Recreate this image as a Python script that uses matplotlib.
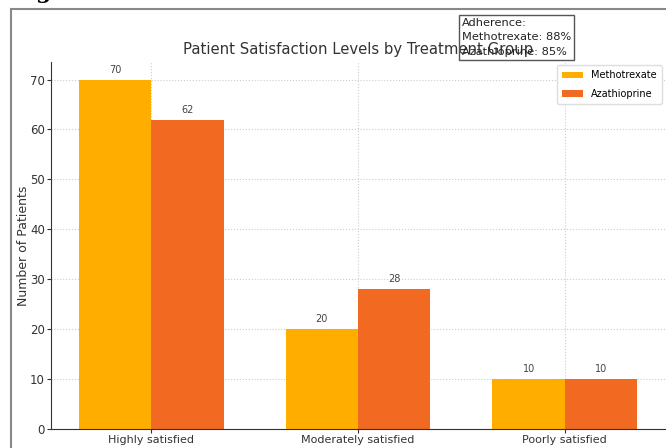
import numpy as np
import matplotlib.pyplot as plt
from matplotlib.patches import Rectangle

categories = ['Highly satisfied', 'Moderately satisfied', 'Poorly satisfied']
methotrexate = [70, 20, 10]
azathioprine = [62, 28, 10]
adherence = {'Methotrexate': 88, 'Azathioprine': 85}

c_mtx = '#FFAE00'
c_aza = '#F26A21'
txt = '#333333'

fig = plt.figure(figsize=(6.66, 4.48), dpi=100)
ax = fig.add_axes([0.0766, 0.0424, 0.922, 0.819])

x = np.arange(len(categories))
w = 0.35
b1 = ax.bar(x - w / 2, methotrexate, w, color=c_mtx, label='Methotrexate')
b2 = ax.bar(x + w / 2, azathioprine, w, color=c_aza, label='Azathioprine')

for bars in (b1, b2):
    for b in bars:
        ax.text(b.get_x() + b.get_width() / 2, b.get_height() + 1.0, f'{b.get_height():.0f}',
                ha='center', va='bottom', fontsize=7, color='#444444')

ax.set_xticks(x)
ax.set_xticklabels(categories, fontsize=8, color=txt)
ax.tick_params(axis='y', labelsize=8.5, labelcolor=txt)
ax.tick_params(length=3, color=txt, pad=1.5)
ax.set_ylabel('Number of Patients', fontsize=9, color=txt)
ax.yaxis.set_label_coords(-0.035, 0.5)
ax.grid(True, linestyle=':', color='#cccccc', linewidth=0.8)
ax.set_axisbelow(True)
for s in ['top', 'right']:
    ax.spines[s].set_visible(False)
for s in ['left', 'bottom']:
    ax.spines[s].set_color(txt)

ax.legend(loc='upper right', fontsize=7, frameon=True, framealpha=1,
          edgecolor='#dddddd', handlelength=2.2, labelspacing=0.9, borderpad=0.5,
          borderaxespad=0.35)

ax.set_title('Patient Satisfaction Levels by Treatment Group', fontsize=10.7, color=txt, pad=6)

# adherence note in the top corner
note = 'Adherence:\n' + '\n'.join(f'{k}: {v}%' for k, v in adherence.items())
fig.text(0.6935, 0.96, note, fontsize=8.2, color='#222222', va='top', ha='left',
         linespacing=1.55,
         bbox=dict(boxstyle='square,pad=0.25', facecolor='none', edgecolor='#555555', linewidth=1))

# page frame around the figure
fig.patches.append(Rectangle((0.016, -0.1), 1.2, 1.08, transform=fig.transFigure,
                             fill=False, edgecolor='#888888', linewidth=1.5))
fig.text(0.052, 1.018, 'g', fontsize=16, fontweight='bold', family='DejaVu Serif',
         color='black', ha='left', va='center')

fig.savefig('out.png', dpi=100)
